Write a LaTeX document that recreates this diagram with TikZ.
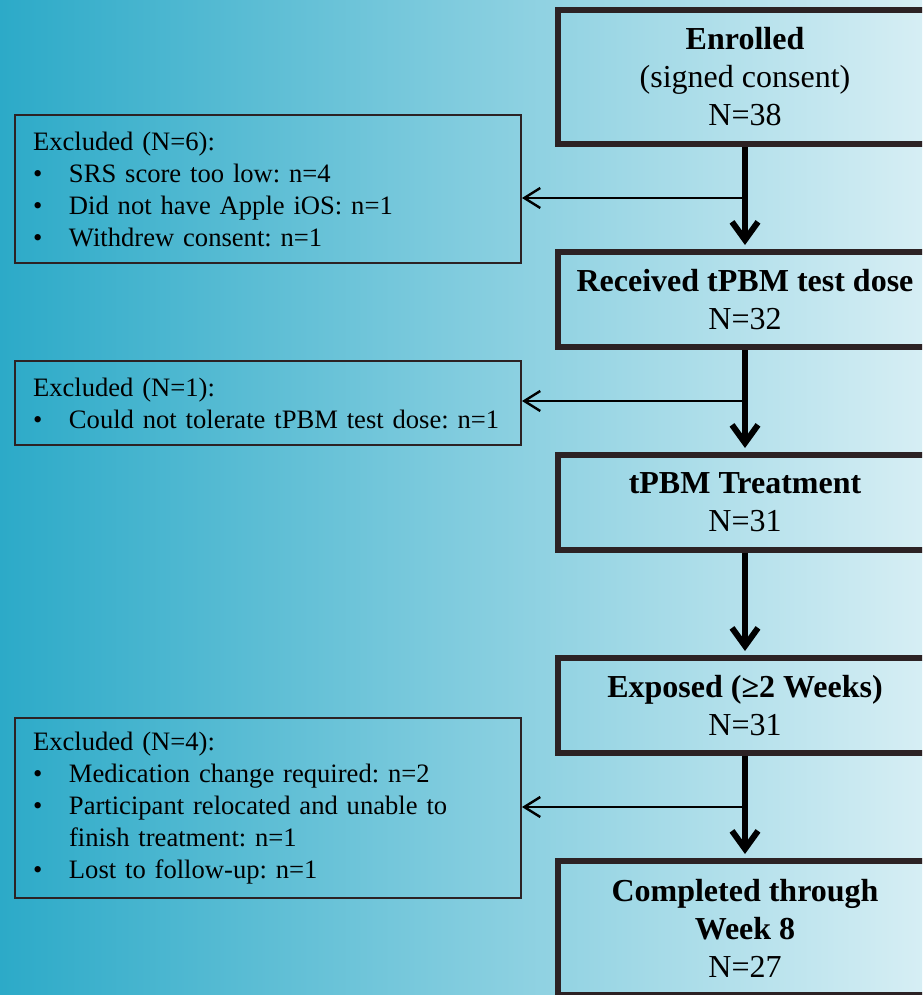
\documentclass[tikz,border=0pt]{standalone}
\usepackage{fontspec}
\setmainfont{Liberation Serif}
\usepackage{tikz}
\usetikzlibrary{positioning,calc,arrows.meta}

\definecolor{bgleft}{RGB}{44,170,200}
\definecolor{bgright}{RGB}{214,238,244}
\definecolor{boxline}{RGB}{44,34,36}

\frenchspacing
\newcommand{\bitem}[1]{\makebox[18pt][l]{\textbullet}#1}
\newcommand{\bcont}[1]{\hspace*{18pt}#1}

\begin{document}
\begin{tikzpicture}[x=0.5pt,y=-0.5pt,node distance=51pt,
    stagebox/.style={draw=boxline,line width=3pt,rectangle,minimum width=187pt,
      align=center,font=\fontsize{16}{19}\selectfont},
    exclbox/.style={draw=boxline,line width=1pt,rectangle,text width=235pt,
      inner xsep=9pt,align=left,font=\fontsize{13.3}{16}\selectfont},
    flow/.style={-{Straight Barb[length=9pt,width=13pt]},line width=3pt,shorten >=2pt},
    side/.style={-{Straight Barb[length=8pt,width=10pt]},line width=1.2pt}]

    \useasboundingbox (0,0) rectangle (922,995);
    \clip (0,0) rectangle (922,995);
    \shade[left color=bgleft,right color=bgright] (0,0) rectangle (922,995);

    \node[stagebox,minimum height=67pt] (enrolled) at (745,77)
      {\textbf{Enrolled}\\(signed consent)\\N=38};
    \node[stagebox,minimum height=47.5pt,below=of enrolled] (testdose)
      {\textbf{Received tPBM test dose}\\N=32};
    \node[stagebox,minimum height=47.5pt,below=of testdose] (treatment)
      {\textbf{tPBM Treatment}\\N=31};
    \node[stagebox,minimum height=47.5pt,below=of treatment] (exposed)
      {\textbf{Exposed (≥2 Weeks)}\\N=31};
    \node[stagebox,minimum height=67pt,below=of exposed] (completed)
      {\textbf{Completed through}\\\textbf{Week 8}\\N=27};

    \node[exclbox,minimum height=74pt] (excl1) at (268,189)
      {Excluded (N=6):\\
       \bitem{SRS score too low: n=4}\\
       \bitem{Did not have Apple iOS: n=1}\\
       \bitem{Withdrew consent: n=1}};
    \node[exclbox,minimum height=42pt] (excl2) at (268,403)
      {Excluded (N=1):\\
       \bitem{\mbox{Could not tolerate tPBM test dose: n=1}}};
    \node[exclbox,minimum height=90pt] (excl3) at (268,808)
      {Excluded (N=4):\\
       \bitem{Medication change required: n=2}\\
       \bitem{Participant relocated and unable to}\\
       \bcont{finish treatment: n=1}\\
       \bitem{Lost to follow-up: n=1}};

    \draw[flow] (enrolled) -- (testdose);
    \draw[flow] (testdose) -- (treatment);
    \draw[flow] (treatment) -- (exposed);
    \draw[flow] (exposed) -- (completed);

    \coordinate (j1) at ($(enrolled.south)!0.5!(testdose.north)$);
    \coordinate (j2) at ($(testdose.south)!0.5!(treatment.north)$);
    \coordinate (j3) at ($(exposed.south)!0.5!(completed.north)$);
    \draw[side] (j1) -- (j1 -| excl1.east);
    \draw[side] (j2) -- (j2 -| excl2.east);
    \draw[side] (j3) -- (j3 -| excl3.east);

\end{tikzpicture}
\end{document}
